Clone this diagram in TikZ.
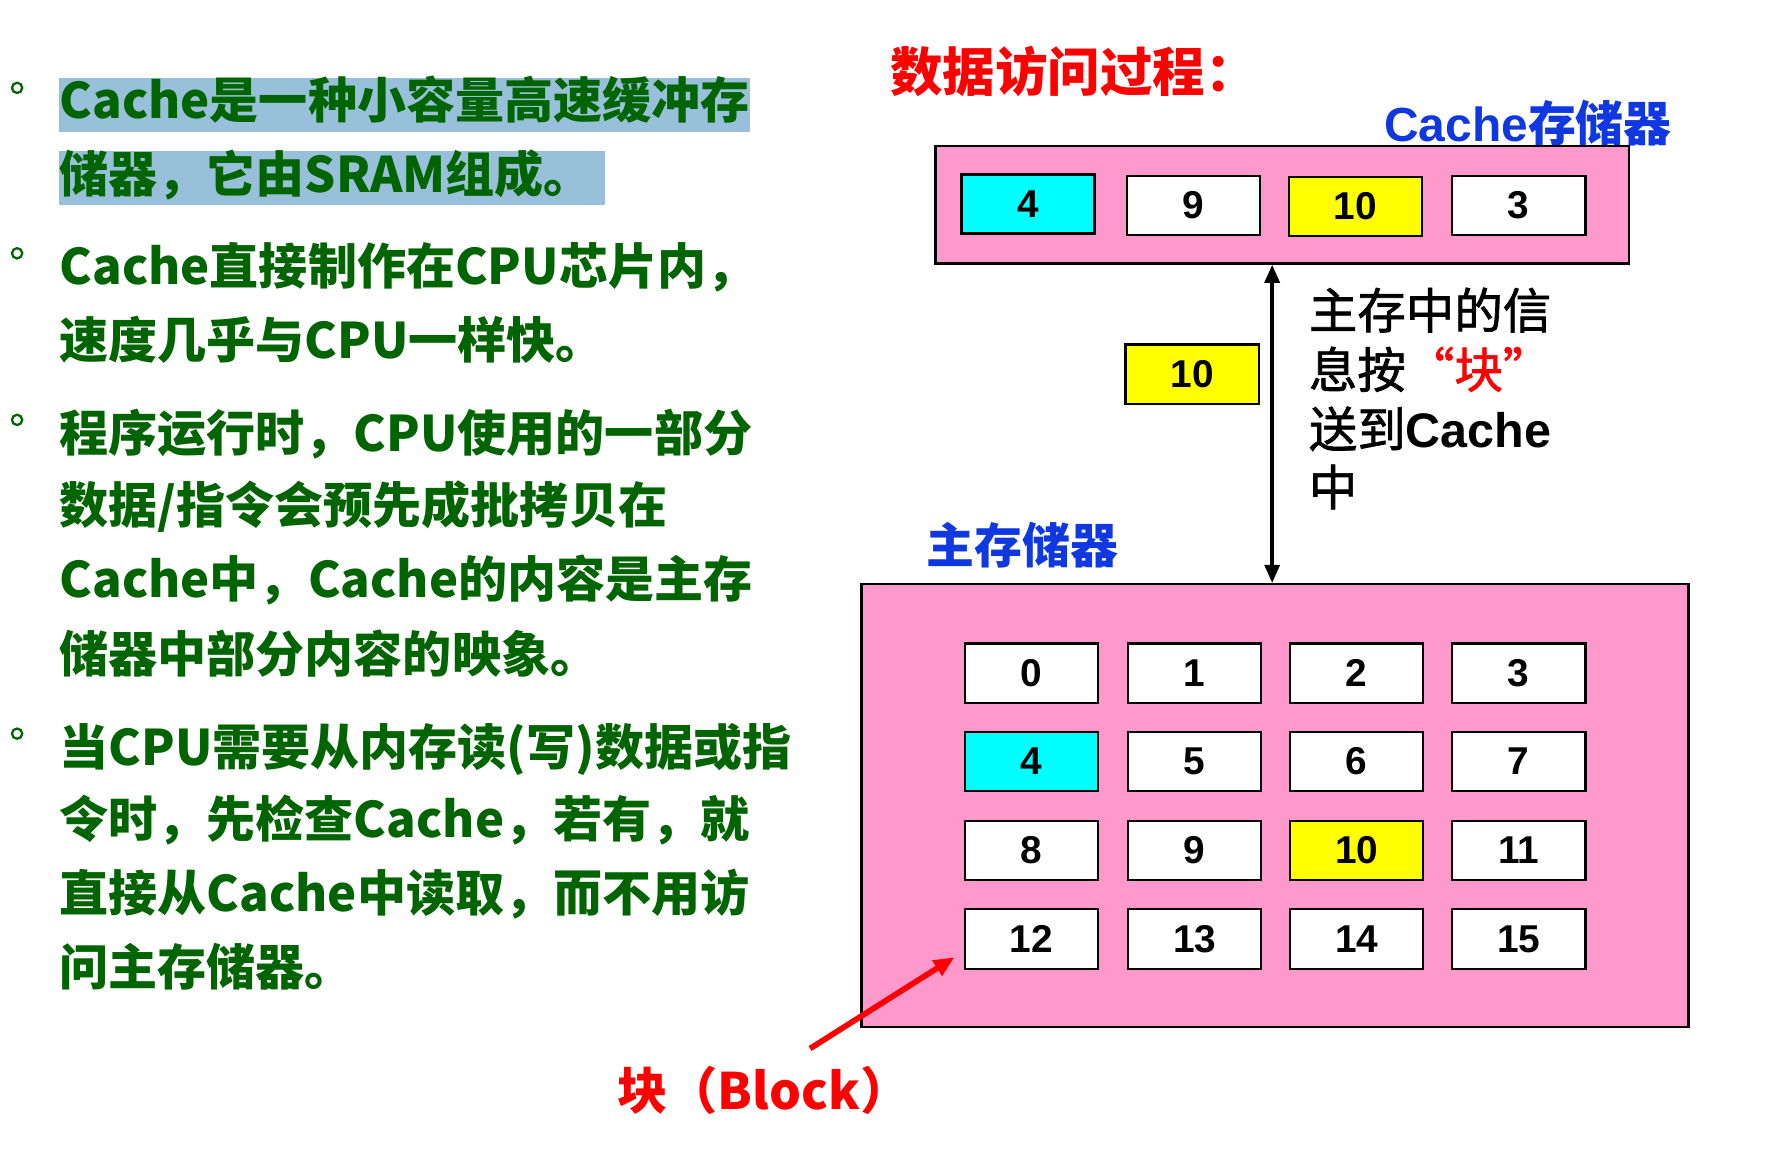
\documentclass[tikz,border=0pt]{standalone}
\usepackage{fontspec}
\setmainfont{Liberation Sans}
\newfontfamily\cjk{Noto Sans CJK SC}
\newfontfamily\cjkfb{Noto Sans CJK SC}[FakeBold=1.4]
\usetikzlibrary{arrows.meta,calc}
\definecolor{leafgreen}{RGB}{0,100,0}
\definecolor{hilite}{RGB}{153,192,218}
\definecolor{pinkbg}{RGB}{255,153,204}
\definecolor{labelblue}{RGB}{16,56,224}
\definecolor{cyanfill}{RGB}{0,255,255}
\definecolor{yellowfill}{RGB}{255,255,0}
\definecolor{redtxt}{RGB}{255,0,0}
\begin{document}
\begin{tikzpicture}[x=1pt,y=-1pt,
  lefttxt/.style={anchor=base west, inner sep=0pt, text=leafgreen, font=\cjk\bfseries\fontsize{43}{50}\selectfont},
  righttxt/.style={anchor=base west, inner sep=0pt, text=black, font=\cjkfb\fontsize{42.5}{50}\selectfont},
  bluelabel/.style={anchor=base west, inner sep=0pt, text=labelblue, font=\fontsize{42}{50}\selectfont},
  cellbox/.style={draw=black, line width=2pt, fill=white, minimum width=117pt, minimum height=52pt, inner sep=0pt, font=\bfseries\fontsize{34}{38}\selectfont},
  pinkbox/.style={draw=black, line width=2pt, fill=pinkbg},
  bulletring/.style={draw=leafgreen, line width=2pt, circle, minimum size=9pt, inner sep=0pt}
]
\useasboundingbox (0,0) rectangle (1568,1014);
\fill[white] (0,0) rectangle (1568,1014);

% ---------- left column ----------
\fill[hilite] (52,68) rectangle (657,116);
\fill[hilite] (52,132) rectangle (530,180);

\node[bulletring] (b1) at (15,77) {};
\node[bulletring] (b2) at (15,222) {};
\node[bulletring] (b3) at (15,368) {};
\node[bulletring] (b4) at (15,643) {};

\node[lefttxt] (l1)  at (52,104) {Cache是一种小容量高速缓冲存};
\node[lefttxt] (l2)  at (52,169) {储器，它由SRAM组成。};
\node[lefttxt] (l3)  at (52,249) {Cache直接制作在CPU芯片内，};
\node[lefttxt] (l4)  at (52,314) {速度几乎与CPU一样快。};
\node[lefttxt] (l5)  at (52,396) {程序运行时，CPU使用的一部分};
\node[lefttxt] (l6)  at (52,459) {数据/指令会预先成批拷贝在};
\node[lefttxt] (l7)  at (52,524) {Cache中，Cache的内容是主存};
\node[lefttxt] (l8)  at (52,589) {储器中部分内容的映象。};
\node[lefttxt] (l9)  at (52,671) {当CPU需要从内存读(写)数据或指};
\node[lefttxt] (l10) at (52,734) {令时，先检查Cache，若有，就};
\node[lefttxt] (l11) at (52,799) {直接从Cache中读取，而不用访};
\node[lefttxt] (l12) at (52,864) {问主存储器。};

% ---------- right: titles ----------
\node[anchor=base west, inner sep=0pt, text=redtxt, font=\cjk\bfseries\fontsize{46}{52}\selectfont] (title) at (780,80) {数据访问过程：};
\node[bluelabel] (cachelbl) at (1213,124) {\bfseries Cache{\cjk\bfseries 存储器}};

% ---------- cache ----------
\node[pinkbox, minimum width=608pt, minimum height=103pt, inner sep=0pt] (cache) at (1124,179.5) {};
\node[cellbox, fill=cyanfill, line width=2.6pt] (k4)  at (901,179) {4};
\node[cellbox] (k9)  at (1046,180) {9};
\node[cellbox, fill=yellowfill] (k10) at (1188,181) {10};
\node[cellbox] (k3)  at (1331,180) {3};

% ---------- moving block and explanation ----------
\node[cellbox, fill=yellowfill] (mv) at (1045,328) {10};
\node[righttxt] (e1) at (1147,288) {主存中的信};
\node[righttxt] (e2) at (1147,340) {息按{\color{redtxt}“块”}};
\node[righttxt] (e3) at (1147,392) {送到{\fontspec{Liberation Sans}\bfseries Cache}};
\node[righttxt] (e4) at (1147,443) {中};

% ---------- main memory ----------
\node[bluelabel] (memlbl) at (812,494) {{\cjk\bfseries 主存储器}};
\node[pinkbox, minimum width=725pt, minimum height=388pt, inner sep=0pt] (mem) at (1117.5,706) {};

\foreach \n/\cx/\cy/\f in {0/904/590/white, 1/1047/590/white, 2/1189/590/white, 3/1331/590/white,
                           4/904/667.5/cyanfill, 5/1047/667.5/white, 6/1189/667.5/white, 7/1331/667.5/white,
                           8/904/745.5/white, 9/1047/745.5/white, 10/1189/745.5/yellowfill, 11/1331/745.5/white,
                           12/904/823/white, 13/1047/823/white, 14/1189/823/white, 15/1331/823/white}{
  \node[cellbox, fill=\f] (m\n) at (\cx,\cy) {\n};
}

% ---------- connectors ----------
\coordinate (arrx) at (1115,0);
\draw[line width=3.5pt, {Triangle[length=16pt,width=13pt]}-{Triangle[length=16pt,width=13pt]}]
  (cache.south -| arrx) -- (mem.north -| arrx);

\node[anchor=base west, inner sep=0pt, text=redtxt, font=\cjk\bfseries\fontsize{44}{50}\selectfont] (blk) at (541,972) {块（Block）};
\coordinate (blkstart) at (710,919);
\draw[redtxt, line width=5pt, -{Triangle[length=18pt,width=15pt]}]
  (blkstart) -- ([xshift=-8pt,yshift=11pt]m12.south west);
\end{tikzpicture}
\end{document}
